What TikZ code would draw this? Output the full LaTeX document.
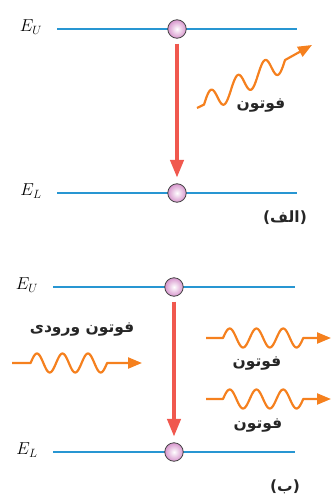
\documentclass[tikz,border=0pt]{standalone}
\usepackage{fontspec}
\TeXXeTstate=1
\newfontfamily\arabicfont[Script=Arabic]{DejaVu Sans}
\usetikzlibrary{arrows.meta}
\definecolor{lvlblue}{RGB}{40,150,210}
\definecolor{trred}{RGB}{240,88,78}
\definecolor{phorange}{RGB}{245,128,30}
\definecolor{atompink}{RGB}{215,150,205}
\tikzset{
  level/.style={draw=lvlblue, line width=1.8pt},
  atom/.style={circle, draw=black!75, line width=0.8pt, minimum size=18.5pt, inner sep=0pt,
    inner color=white, outer color=atompink},
  trans/.style={draw=trred, line width=4.2pt, -{Triangle[length=18pt,width=13pt]}},
  wave/.style={draw=phorange, line width=2.2pt, line join=round, -{Triangle[length=14pt,width=11pt]}},
  elab/.style={font=\fontsize{17}{19}\selectfont, inner sep=0pt},
  flab/.style={font=\arabicfont\bfseries\fontsize{15.5}{17}\selectfont, inner sep=0pt, text=black!85}
}
\begin{document}
\begin{tikzpicture}[x=1pt,y=-1pt]
\useasboundingbox (0,0) rectangle (331,501);
% ---- panel (a)
\coordinate (a1l) at (57,29); \coordinate (a1r) at (297,29);
\coordinate (a2l) at (57,193); \coordinate (a2r) at (297,193);
\draw[level] (a1l) -- (a1r);
\draw[level] (a2l) -- (a2r);
\node[elab] (eua) at (31,27) {$E_U$};
\node[elab] (ela) at (31,191) {$E_L$};
\node[atom] (ua) at (177,29) {};
\node[atom] (la) at (177,193) {};
\draw[trans, shorten <=5pt, shorten >=5.5pt] (ua.south) -- (la.north);
% diagonal photon
\draw[wave] (197,108) -- (204,104.6) -- plot[domain=0:81, samples=100, smooth]
  ({204+\x}, {104.6-0.55*\x - 11*sin(\x/27*360)})
  -- (312,45);
\node[flab] (pa) at (261,106) {\beginR فوتون\endR};
\node[flab] (tagA) at (285,218) {\beginR(الف)\endR};
% ---- panel (b)
\coordinate (b1l) at (53,287); \coordinate (b1r) at (295,287);
\coordinate (b2l) at (53,452); \coordinate (b2r) at (295,452);
\draw[level] (b1l) -- (b1r);
\draw[level] (b2l) -- (b2r);
\node[elab] (eub) at (27,285) {$E_U$};
\node[elab] (elb) at (27,450) {$E_L$};
\node[atom] (ub) at (174,287) {};
\node[atom] (lb) at (174,452) {};
\draw[trans, shorten <=5pt, shorten >=5.5pt] (ub.south) -- (lb.north);
% incoming photon
\draw[wave] (12,363) -- (30.6,363) -- plot[domain=0:76.5, samples=90, smooth]
  ({30.6+\x}, {363-9.5*sin(\x/25.5*360)}) -- (142,363);
\node[flab] (pin) at (82,330) {\beginR فوتون ورودی\endR};
% outgoing photons
\draw[wave] (206,338) -- (223,338) -- plot[domain=0:80.25, samples=90, smooth]
  ({223+\x}, {338-9.5*sin(\x/26.75*360)}) -- (331,338);
\draw[wave] (206,399) -- (223,399) -- plot[domain=0:80.25, samples=90, smooth]
  ({223+\x}, {399-9.5*sin(\x/26.75*360)}) -- (331,399);
\node[flab] (po1) at (257,364) {\beginR فوتون\endR};
\node[flab] (po2) at (258,426) {\beginR فوتون\endR};
\node[flab] (tagB) at (285,487) {\beginR(ب)\endR};
\end{tikzpicture}
\end{document}
